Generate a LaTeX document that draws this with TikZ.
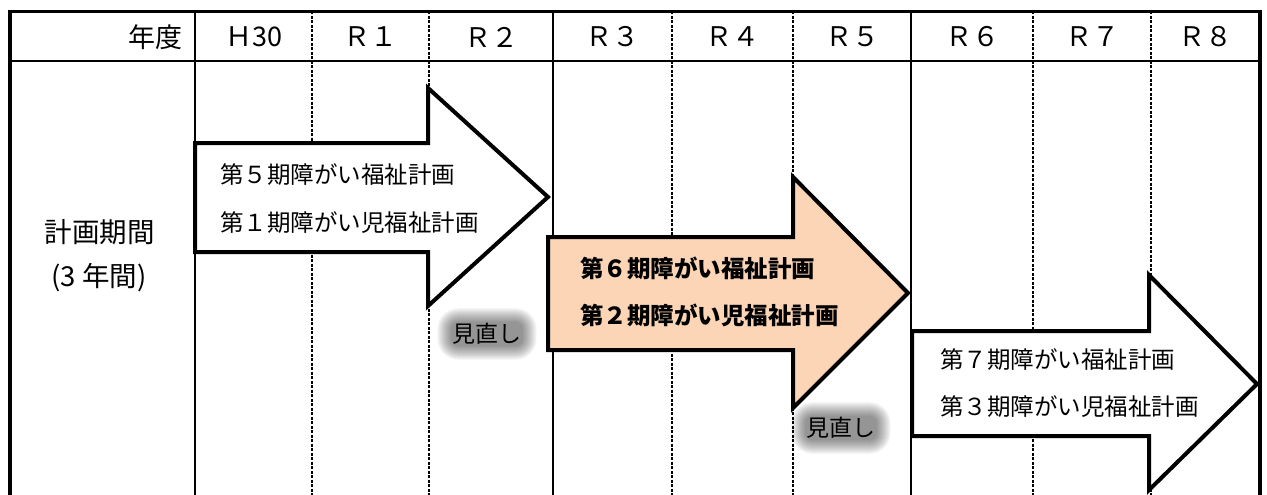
\documentclass[tikz,border=0pt]{standalone}
\usepackage{fontspec}
\newfontfamily\jp{Noto Sans CJK JP}
\usetikzlibrary{backgrounds}
\definecolor{peach}{RGB}{251,213,181}
\tikzset{
  frame/.style={line width=3.5pt},
  solidline/.style={line width=1.5pt},
  dashline/.style={line width=1.2pt, dash pattern=on 3pt off 1.5pt},
  arrowshape/.style={line width=4pt, line join=miter, fill=white},
  hdr/.style={font=\jp\fontsize{27}{30}\selectfont, inner sep=0pt},
  lbl/.style={font=\jp\fontsize{27.5}{30}\selectfont, inner sep=0pt},
  plan/.style={font=\jp\fontsize{23.5}{28}\selectfont, inner sep=0pt, anchor=west},
  planbold/.style={font=\jp\bfseries\fontsize{23.5}{28}\selectfont, inner sep=0pt, anchor=west},
  review/.style={font=\jp\fontsize{23}{26}\selectfont, inner sep=0pt},
}
\begin{document}
\begin{tikzpicture}[x=1pt, y=-1pt]
\useasboundingbox (0,0) rectangle (1267,495);
\clip (0,0) rectangle (1267,495);
% header line
\draw[solidline] (10,61) -- (1260,61);
% vertical lines
\foreach \x in {195,553,911} \draw[solidline] (\x,11.5) -- (\x,495);
\foreach \x in {312,429,672,793,1033,1151} \draw[dashline] (\x,11.5) -- (\x,495);
% frame
\draw[frame] (10,495) -- (10,11.5) -- (1260,11.5) -- (1260,495);
% header texts
\node[hdr, anchor=east] (hy) at (183,37) {年度};
\node[hdr] (h0) at (253.5,37) {Ｈ30};
\node[hdr] (h1) at (370.5,37) {Ｒ１};
\node[hdr] (h2) at (491,37) {Ｒ２};
\node[hdr] (h3) at (612.5,37) {Ｒ３};
\node[hdr] (h4) at (732.5,37) {Ｒ４};
\node[hdr] (h5) at (852,37) {Ｒ５};
\node[hdr] (h6) at (972,37) {Ｒ６};
\node[hdr] (h7) at (1092,37) {Ｒ７};
\node[hdr] (h8) at (1205.5,37) {Ｒ８};
% left label
\node[lbl] (period) at (100,232) {計画期間};
\node[lbl] (years) at (99,278) {(3 年間)};
% review labels with glow
\node[review] (rev1) at (487,334) {見直し};
\node[review] (rev2) at (841,428) {見直し};
\begin{scope}[on background layer]
\foreach \n in {rev1,rev2}{
  \foreach \i in {1,...,15}{
    \fill[black, opacity=0.034, rounded corners={(\i+6)*1pt}]
      ([shift={(-\i pt,\i pt)}]\n.north west) rectangle ([shift={(\i pt,-\i pt)}]\n.south east);
  }
}
\end{scope}
% arrows
\draw[arrowshape] (195,143) -- (428,143) -- (428,88) -- (548,197) -- (428,306) -- (428,252) -- (195,252) -- cycle;
\node[plan] (a1l1) at (220,175) {第５期障がい福祉計画};
\node[plan] (a1l2) at (220,223) {第１期障がい児福祉計画};
\draw[arrowshape, fill=peach] (548,237) -- (793,237) -- (793,177) -- (908,293) -- (793,408) -- (793,350) -- (548,350) -- cycle;
\node[planbold] (a2l1) at (580,268) {第６期障がい福祉計画};
\node[planbold] (a2l2) at (580,315) {第２期障がい児福祉計画};
\draw[arrowshape] (912,331) -- (1149,331) -- (1149,275) -- (1257,384) -- (1149,490) -- (1149,436) -- (912,436) -- cycle;
\node[plan] (a3l1) at (940,360) {第７期障がい福祉計画};
\node[plan] (a3l2) at (940,407) {第３期障がい児福祉計画};
\end{tikzpicture}
\end{document}
